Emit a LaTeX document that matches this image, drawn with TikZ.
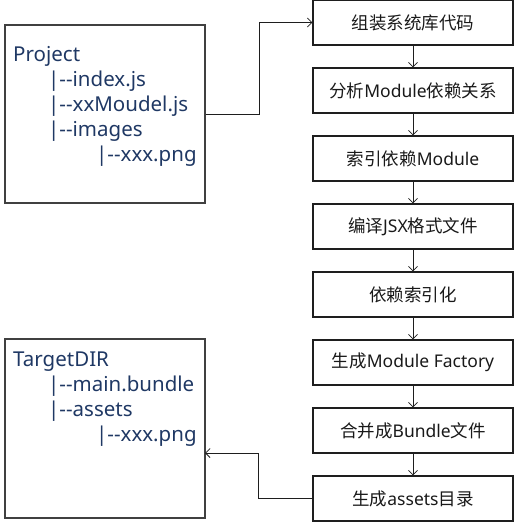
\documentclass[tikz,border=0pt]{standalone}
\usepackage{fontspec}
\setmainfont{Noto Sans}
\newfontfamily\cjk{Noto Sans CJK SC}
\usetikzlibrary{arrows.meta}
\definecolor{treeblue}{RGB}{31,56,100}
\definecolor{boxline}{RGB}{30,30,30}
\newcommand{\br}{|{-}{-}}
\tikzset{
  stepbox/.style={draw=boxline, line width=1.1pt, minimum width=200pt, minimum height=45pt,
    inner sep=0pt, font=\fontsize{17.5}{20}\selectfont, text=black!90},
  treebox/.style={draw=boxline!85, line width=1.1pt, minimum width=200pt, inner sep=0pt},
  treetext/.style={anchor=north west, align=left, inner sep=0pt, text=treeblue,
    font=\fontsize{20.5}{25}\selectfont},
  flow/.style={draw=boxline, line width=0.9pt, -{Straight Barb[length=4.5pt,width=9pt,line width=0.8pt]}}
}
\begin{document}
\begin{tikzpicture}[x=1pt,y=-1pt]
\useasboundingbox (0,0) rectangle (514,522);
% right column
\node[stepbox] (b1) at (413,22.5) {\cjk 组装系统库代码};
\node[stepbox] (b2) at (413,90.5) {{\cjk 分析}Module{\cjk 依赖关系}};
\node[stepbox] (b3) at (413,158.5) {{\cjk 索引依赖}Module};
\node[stepbox] (b4) at (413,226.5) {{\cjk 编译}JSX{\cjk 格式文件}};
\node[stepbox] (b5) at (413,294.5) {\cjk 依赖索引化};
\node[stepbox] (b6) at (413,362.5) {{\cjk 生成}Module Factory};
\node[stepbox] (b7) at (413,430.5) {{\cjk 合并成}Bundle{\cjk 文件}};
\node[stepbox] (b8) at (413,498.5) {{\cjk 生成}assets{\cjk 目录}};
\foreach \a/\b in {b1/b2,b2/b3,b3/b4,b4/b5,b5/b6,b6/b7,b7/b8}
  \draw[flow] (\a.south) -- (\b.north);
% left boxes
\node[treebox, minimum height=178pt] (proj) at (105,114) {};
\node[treetext] (projtxt) at (13,46) {Project\\
\hspace*{35pt}\br index.js\\
\hspace*{35pt}\br xxMoudel.js\\
\hspace*{35pt}\br images\\
\hspace*{83pt}\br xxx.png};
\node[treebox, minimum height=179pt] (tgt) at (105,428.5) {};
\node[treetext] (tgttxt) at (13,352) {TargetDIR\\
\hspace*{35pt}\br main.bundle\\
\hspace*{35pt}\br assets\\
\hspace*{83pt}\br xxx.png};
% connectors
\draw[flow] (proj.east) -- ++(54,0) |- (b1.west);
\coordinate (tin) at (205,453);
\draw[flow] (b8.west) -- ++(-54,0) |- (tin);
\end{tikzpicture}
\end{document}
